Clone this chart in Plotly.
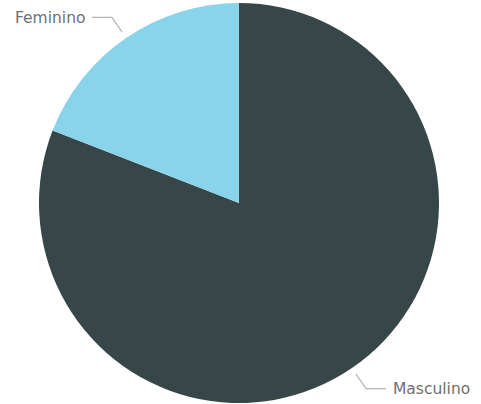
import math
import plotly.graph_objects as go

labels = ["Masculino", "Feminino"]
values = [80.9, 19.1]
colors = ["#374649", "#8AD4EB"]

W, H = 481, 404
cx, cy, R = 239, 203, 200

fig = go.Figure(go.Pie(
    labels=labels, values=values, sort=False, direction="clockwise",
    rotation=0, marker=dict(colors=colors, line=dict(width=0)),
    textinfo="none", hoverinfo="skip", showlegend=False,
    domain=dict(x=[(cx - R) / W, (cx + R) / W], y=[1 - (cy + R) / H, 1 - (cy - R) / H]),
))

total = sum(values)
cum = 0
shapes, annos = [], []
for lab, v in zip(labels, values):
    mid = (cum + v / 2) / total * 2 * math.pi
    cum += v
    s, c = math.sin(mid), math.cos(mid)
    # slices run clockwise from 12 o'clock
    x0, y0 = cx + 207 * s, cy - 207 * c
    x1, y1 = cx + 225 * s, cy - 225 * c
    side = 1 if s > 0 else -1
    x2 = x1 + side * 20
    pts = [(x0, y0), (x1, y1), (x2, y1)]
    path = "M " + " L ".join(f"{px / W:.5f},{1 - py / H:.5f}" for px, py in pts)
    shapes.append(dict(type="path", path=path, xref="paper", yref="paper",
                       line=dict(color="#B4B4B4", width=1.2)))
    annos.append(dict(text=lab, x=(x2 + side * 5) / W, y=1 - (y1 + 0.5) / H,
                      xref="paper", yref="paper",
                      showarrow=False, xanchor="left" if side > 0 else "right", yanchor="middle",
                      font=dict(family="DejaVu Sans", size=15.5, color="#707070")))

fig.update_layout(width=W, height=H, margin=dict(l=0, r=0, t=0, b=0),
                  paper_bgcolor="white", plot_bgcolor="white",
                  shapes=shapes, annotations=annos)
fig.write_html("out.html", config={"displayModeBar": False},
               post_script="document.body.style.margin='0';")
